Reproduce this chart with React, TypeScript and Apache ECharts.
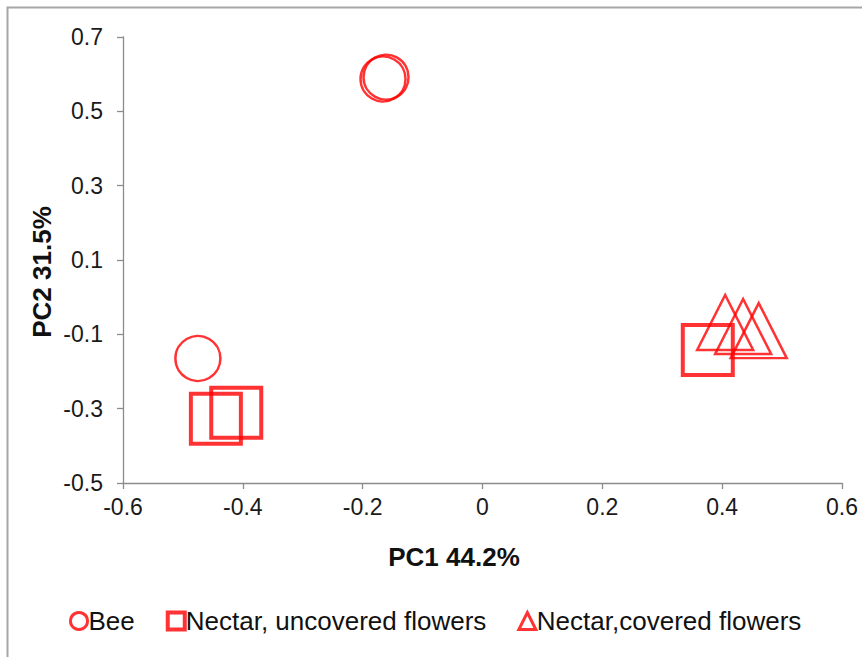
import React, { useEffect, useRef } from "react";
import * as echarts from "echarts";

const SERIES_NAMES = ["Bee", "Nectar, uncovered flowers", "Nectar,covered flowers"];
const BEE: number[][] = [[-0.475, -0.165], [-0.166, 0.587], [-0.161, 0.592]];
const UNCOVERED: number[][] = [[-0.445, -0.327], [-0.411, -0.311], [0.376, -0.142]];
const COVERED: number[][] = [[0.405, -0.068], [0.435, -0.079], [0.461, -0.090]];
const X_TICKS = [-0.6, -0.4, -0.2, 0, 0.2, 0.4, 0.6];
const Y_TICKS = [-0.5, -0.3, -0.1, 0.1, 0.3, 0.5, 0.7];
const X_TITLE = "PC1 44.2%";
const Y_TITLE = "PC2 31.5%";

const RED = "#ff0000";
const FONT = "'Liberation Sans', Arial, sans-serif";

export default function App() {
  const ref = useRef<HTMLDivElement>(null);
  useEffect(() => {
    document.body.style.margin = "0";
    const chart = echarts.init(ref.current!, null, { renderer: "svg" });
    const axisCommon = {
      type: "value" as const,
      splitLine: { show: false },
      axisLine: { show: true, onZero: false, lineStyle: { color: "#8c8c8c", width: 1.3 } },
      axisTick: { show: true, inside: false, length: 6, lineStyle: { color: "#8c8c8c", width: 1.3 } },
    };
    chart.setOption({
      animation: false,
      backgroundColor: "#ffffff",
      grid: { left: 123, top: 37, width: 719, height: 446, containLabel: false },
      xAxis: {
        ...axisCommon,
        min: -0.6,
        max: 0.6,
        axisTick: { ...axisCommon.axisTick, customValues: X_TICKS },
        axisLabel: {
          customValues: X_TICKS,
          color: "#1a1a1a",
          fontFamily: FONT,
          fontSize: 23,
          margin: 12,
          formatter: (v: number) => String(Math.round(v * 10) / 10),
        },
      },
      yAxis: {
        ...axisCommon,
        min: -0.5,
        max: 0.7,
        axisTick: { ...axisCommon.axisTick, customValues: Y_TICKS },
        axisLabel: {
          customValues: Y_TICKS,
          color: "#1a1a1a",
          fontFamily: FONT,
          fontSize: 23,
          margin: 20,
          formatter: (v: number) => String(Math.round(v * 10) / 10),
        },
      },
      legend: {
        left: 64,
        top: 603,
        itemWidth: 17,
        itemHeight: 17,
        itemGap: 31,
        textStyle: { fontFamily: FONT, fontSize: 26, color: "#111", padding: [0, 0, 0, -4] },
        data: [
          { name: SERIES_NAMES[0], icon: "circle", itemStyle: { borderWidth: 3 } },
          { name: SERIES_NAMES[1], icon: "rect", itemStyle: { borderWidth: 4 } },
          { name: SERIES_NAMES[2], icon: "triangle", itemStyle: { borderWidth: 3 } },
        ],
      },
      graphic: [
        {
          type: "rect",
          silent: true,
          shape: { x: 7.5, y: 7.5, width: 900, height: 700 },
          style: { fill: "none", stroke: "#a6a6a6", lineWidth: 2 },
        },
        {
          type: "text",
          x: 454,
          y: 557,
          style: {
            text: X_TITLE,
            fontFamily: FONT,
            fontSize: 26,
            fontWeight: "bold",
            fill: "#111",
            align: "center",
            verticalAlign: "middle",
          },
        },
        {
          type: "text",
          x: 42,
          y: 272,
          rotation: Math.PI / 2,
          style: {
            text: Y_TITLE,
            fontFamily: FONT,
            fontSize: 26,
            fontWeight: "bold",
            fill: "#111",
            align: "center",
            verticalAlign: "middle",
          },
        },
      ],
      series: [
        {
          name: SERIES_NAMES[0],
          type: "scatter",
          data: BEE,
          symbol: "circle",
          symbolSize: 45,
          itemStyle: { color: "rgba(255,255,255,0)", borderColor: RED, borderWidth: 2.5 },
        },
        {
          name: SERIES_NAMES[1],
          type: "scatter",
          data: UNCOVERED,
          symbol: "rect",
          symbolSize: 50,
          itemStyle: { color: "rgba(255,255,255,0)", borderColor: RED, borderWidth: 4 },
        },
        {
          name: SERIES_NAMES[2],
          type: "scatter",
          data: COVERED,
          symbol: "triangle",
          symbolSize: [56, 55],
          itemStyle: { color: "rgba(255,255,255,0)", borderColor: RED, borderWidth: 2.5 },
        },
      ],
    });
    return () => chart.dispose();
  }, []);
  return <div ref={ref} style={{ width: 862, height: 657 }} />;
}
